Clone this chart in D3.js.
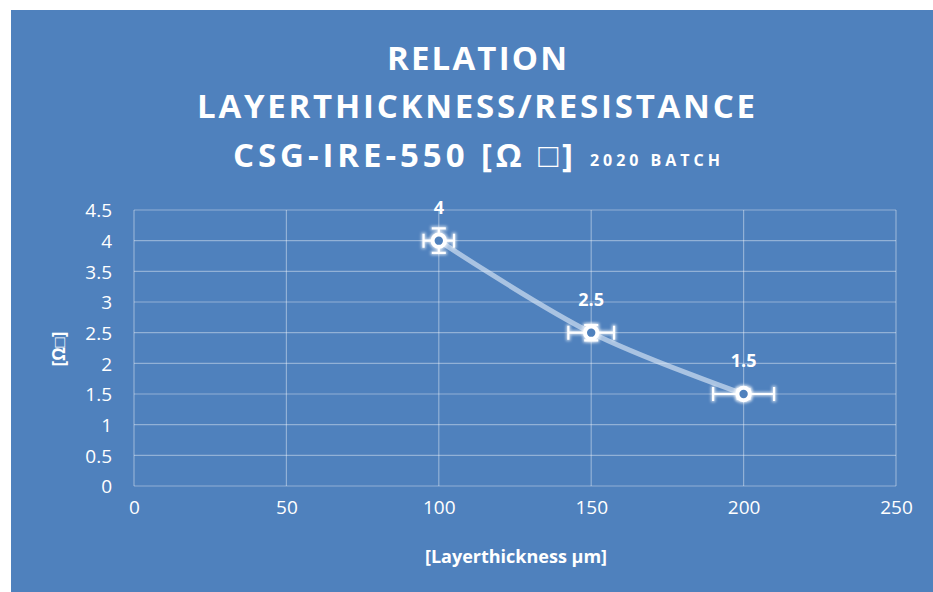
<!DOCTYPE html>
<html><head><meta charset="utf-8">
<script src="https://cdn.jsdelivr.net/npm/d3@7"></script>
<style>
html,body{margin:0;padding:0;background:#fff;}
svg{display:block;}
text{font-family:"Open Sans","Noto Sans",sans-serif;fill:#fff;}
</style></head>
<body>
<svg id="chart" width="933" height="592"></svg>
<script>
// ---- data ----
const thickness = [100, 150, 200];          // µm
const resistance = [4, 2.5, 1.5];           // Ω□
const errorPct = 0.05;                       // 5% error bars, both axes
const xTicks = [0, 50, 100, 150, 200, 250];
const yTicks = [0, 0.5, 1, 1.5, 2, 2.5, 3, 3.5, 4, 4.5];
const titleLines = ["RELATION", "LAYERTHICKNESS/RESISTANCE", "CSG-IRE-550 [Ω □]"];
const titleSuffix = "2020 BATCH";
const xTitle = "[Layerthickness µm]";
const yTitle = "[Ω□]";

const svg = d3.select("#chart");
const W = 933, H = 592;
const narrow = '"Liberation Sans Narrow","Arial Narrow","Open Sans",sans-serif';

// background panel
svg.append("rect").attr("x", 11).attr("y", 10).attr("width", W - 11).attr("height", H - 10)
  .attr("fill", "#4f81bd");

// glow filter
const defs = svg.append("defs");
const f = defs.append("filter").attr("id", "glow").attr("x", "-50%").attr("y", "-50%").attr("width", "200%").attr("height", "200%");
f.append("feMorphology").attr("in", "SourceAlpha").attr("operator", "dilate").attr("radius", 1).attr("result", "d");
f.append("feGaussianBlur").attr("in", "d").attr("stdDeviation", 1.6).attr("result", "b");
f.append("feFlood").attr("flood-color", "#ffffff").attr("flood-opacity", 0.7);
f.append("feComposite").attr("in2", "b").attr("operator", "in").attr("result", "g");
const fm = f.append("feMerge");
fm.append("feMergeNode").attr("in", "g");
fm.append("feMergeNode").attr("in", "SourceGraphic");

// scales
const x = d3.scaleLinear().domain([0, 250]).range([134, 896]);
const y = d3.scaleLinear().domain([0, 4.5]).range([486, 210]);

// gridlines
const grid = svg.append("g").attr("stroke", "rgba(255,255,255,0.38)").attr("stroke-width", 1.2);
grid.selectAll("line.h").data(yTicks).join("line")
  .attr("x1", x(0)).attr("x2", x(250)).attr("y1", d => y(d)).attr("y2", d => y(d));
grid.selectAll("line.v").data(xTicks).join("line")
  .attr("y1", y(0)).attr("y2", y(4.5)).attr("x1", d => x(d)).attr("x2", d => x(d));

// axes (labels only)
const xAxis = svg.append("g").attr("transform", `translate(0,${y(0)})`)
  .call(d3.axisBottom(x).tickValues(xTicks).tickSize(0).tickPadding(24).tickFormat(d3.format("d")));
const yAxis = svg.append("g").attr("transform", `translate(${x(0)},0)`)
  .call(d3.axisLeft(y).tickValues(yTicks).tickSize(0).tickPadding(22).tickFormat(d => String(d)));
[xAxis, yAxis].forEach(a => {
  a.select(".domain").remove();
  a.selectAll("text").attr("font-size", 19).attr("fill", "#fff")
    .attr("font-family", '"Open Sans","Noto Sans",sans-serif');
});
yAxis.selectAll("text").attr("dy", "0.36em");
xAxis.selectAll("text").attr("dy", "0.2em");

// axis titles
svg.append("text").attr("x", 516).attr("y", 563).attr("text-anchor", "middle")
  .attr("font-size", 18).attr("font-weight", "bold").text(xTitle);
svg.append("text").attr("transform", "translate(65,349) rotate(-90)").attr("text-anchor", "middle")
  .attr("font-size", 17).attr("font-weight", "bold").text(yTitle);

// title
function fitText(sel, w) {
  sel.each(function () {
    const natural = this.getComputedTextLength();
    d3.select(this).attr("textLength", w)
      .attr("lengthAdjust", natural < w ? "spacing" : "spacingAndGlyphs");
  });
}
const tl = [
  {t: titleLines[0], x: 387, w: 180, y: 70},
  {t: titleLines[1], x: 197, w: 558, y: 118},
  {t: titleLines[2], x: 233, w: 340, y: 167}
];
svg.selectAll("text.title").data(tl).join("text").attr("class", "title")
  .attr("x", d => d.x).attr("y", d => d.y).attr("font-size", 33).attr("font-weight", "bold")
  .attr("font-family", narrow).text(d => d.t)
  .each(function (d) { fitText(d3.select(this), d.w); });
const suf = svg.append("text").attr("x", 590).attr("y", 166).attr("font-size", 16).attr("font-weight", "bold")
  .attr("font-family", narrow).text(titleSuffix);
fitText(suf, 130);

// data
const pts = thickness.map((t, i) => ({x: t, y: resistance[i]}));

// smooth line
svg.append("path").datum(pts)
  .attr("d", d3.line().x(d => x(d.x)).y(d => y(d.y)).curve(d3.curveCatmullRom.alpha(0.5)))
  .attr("fill", "none").attr("stroke", "rgba(225,235,248,0.62)").attr("stroke-width", 5).attr("stroke-linecap", "round");

// error bars
const eb = svg.append("g").attr("stroke", "#fff").attr("stroke-width", 2.2).attr("filter", "url(#glow)").attr("fill", "none");
pts.forEach(p => {
  const cx = x(p.x), cy = y(p.y);
  const xl = x(p.x * (1 - errorPct)), xr = x(p.x * (1 + errorPct));
  const yt = y(p.y * (1 + errorPct)), yb = y(p.y * (1 - errorPct));
  const cap = 7;
  eb.append("path").attr("d",
    `M${xl},${cy}H${xr}M${xl},${cy - cap}V${cy + cap}M${xr},${cy - cap}V${cy + cap}` +
    `M${cx},${yt}V${yb}M${cx - cap},${yt}H${cx + cap}M${cx - cap},${yb}H${cx + cap}`);
});

// markers
svg.append("g").selectAll("circle").data(pts).join("circle")
  .attr("cx", d => x(d.x)).attr("cy", d => y(d.y)).attr("r", 6.2)
  .attr("fill", "#4f81bd").attr("stroke", "#fff").attr("stroke-width", 4).attr("filter", "url(#glow)");

// data labels
svg.append("g").selectAll("text").data(pts).join("text")
  .attr("x", d => x(d.x)).attr("y", d => y(d.y) - 27).attr("text-anchor", "middle")
  .attr("font-size", 18).attr("font-weight", "bold").text(d => String(d.y));
</script>
</body></html>
